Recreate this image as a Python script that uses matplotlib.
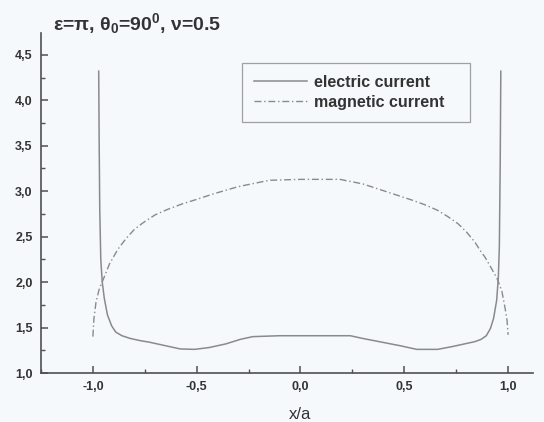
import matplotlib
matplotlib.use("Agg")
import matplotlib.pyplot as plt
from matplotlib.ticker import MultipleLocator, FuncFormatter

# ---- data ----
x_elec = [-0.972, -0.970, -0.967, -0.962, -0.955, -0.945, -0.93, -0.91, -0.89, -0.86,
          -0.82, -0.77, -0.73, -0.65, -0.58, -0.51, -0.44, -0.36, -0.29, -0.23,
          -0.10, 0.0, 0.10, 0.24, 0.30, 0.39, 0.48, 0.56, 0.66, 0.73,
          0.79, 0.84, 0.87, 0.895, 0.915, 0.93, 0.945, 0.953, 0.958, 0.962, 0.965]
y_elec = [4.32, 3.6, 2.8, 2.25, 2.0, 1.82, 1.64, 1.52, 1.45, 1.41,
          1.38, 1.355, 1.34, 1.30, 1.265, 1.26, 1.28, 1.32, 1.37, 1.40,
          1.41, 1.41, 1.41, 1.41, 1.38, 1.34, 1.30, 1.26, 1.26, 1.29,
          1.32, 1.345, 1.37, 1.41, 1.49, 1.60, 1.80, 2.05, 2.4, 3.3, 4.32]

x_mag = [-1.0, -0.995, -0.985, -0.97, -0.95, -0.92, -0.88, -0.84, -0.80, -0.76,
         -0.70, -0.64, -0.57, -0.50, -0.42, -0.30, -0.15, 0.0, 0.19, 0.30,
         0.38, 0.46, 0.54, 0.60, 0.66, 0.71, 0.76, 0.80, 0.84, 0.865,
         0.89, 0.91, 0.93, 0.947, 0.97, 0.985, 0.995, 1.0]
y_mag = [1.40, 1.60, 1.78, 1.92, 2.03, 2.20, 2.36, 2.48, 2.58, 2.65,
         2.74, 2.80, 2.86, 2.91, 2.97, 3.05, 3.12, 3.13, 3.13, 3.08,
         3.02, 2.96, 2.90, 2.85, 2.79, 2.72, 2.64, 2.55, 2.44, 2.35,
         2.27, 2.19, 2.11, 2.04, 1.90, 1.72, 1.58, 1.42]

labels = ["electric current", "magnetic current"]
title_text = r"ε=π, θ$_\mathbf{0}$=90$^\mathbf{0}$, ν=0.5"
xlabel_text = "x/a"

plt.rcParams['font.family'] = ['Liberation Sans', 'DejaVu Sans']
plt.rcParams['mathtext.fontset'] = 'custom'
plt.rcParams['mathtext.rm'] = 'Liberation Sans'
plt.rcParams['mathtext.it'] = 'Liberation Sans'
plt.rcParams['mathtext.bf'] = 'Liberation Sans:bold'

bg = '#f5f9fb'
axc = '#505050'
txtc = '#333333'
linec = '#8a8a8a'

fig = plt.figure(figsize=(5.44, 4.22), dpi=100, facecolor=bg)
ax = fig.add_axes([41/544, 49/422, 492/544, 340/422], facecolor=bg)

ax.plot(x_elec, y_elec, color=linec, lw=1.1, solid_joinstyle='round', label=labels[0])
ax.plot(x_mag, y_mag, color=linec, lw=1.0, linestyle=(0, (5, 2, 1, 2)), label=labels[1])

ax.set_xlim(-1.25, 1.12)
ax.set_ylim(1.0, 4.74)

for s in ['top', 'right']:
    ax.spines[s].set_visible(False)
for s in ['left', 'bottom']:
    ax.spines[s].set_color(axc)
    ax.spines[s].set_linewidth(1.2)

ax.xaxis.set_major_locator(MultipleLocator(0.5))
ax.xaxis.set_minor_locator(MultipleLocator(0.25))
ax.yaxis.set_major_locator(MultipleLocator(0.5))
ax.yaxis.set_minor_locator(MultipleLocator(0.25))
fmt = FuncFormatter(lambda v, p: f"{v:.1f}".replace('.', ','))
ax.xaxis.set_major_formatter(fmt)
ax.yaxis.set_major_formatter(fmt)
ax.tick_params(which='major', direction='in', length=5, width=1.1, color=axc,
               labelsize=9, labelcolor=txtc, pad=6)
ax.tick_params(which='minor', direction='in', length=3, width=1.0, color=axc)
for lab in ax.get_xticklabels() + ax.get_yticklabels():
    lab.set_fontweight('bold')

ax.set_xlabel(xlabel_text, fontsize=12, color=txtc)
ax.xaxis.set_label_coords((300 - 41) / 492, -0.1)

# legend box spans x 242..470 px, top at y 63 px
lx0 = (242 - 41) / 492
lw = (470 - 242) / 492
ltop = (373 - 63) / 340
leg = ax.legend(loc='upper left', bbox_to_anchor=(lx0, ltop - 0.3, lw, 0.3),
                mode='expand', borderaxespad=0,
                frameon=True, fancybox=False, prop={'size': 11.5, 'weight': 'bold'},
                handlelength=3.3, handletextpad=0.45, borderpad=0.75, labelspacing=0.3)
leg.get_frame().set_edgecolor('#8a8a8a')
leg.get_frame().set_linewidth(0.9)
leg.get_frame().set_facecolor(bg)
for t in leg.get_texts():
    t.set_color(txtc)

fig.text(53/544, 1 - 30/422, title_text, fontsize=14, fontweight='bold', color=txtc,
         ha='left', va='baseline')

fig.savefig("out.png", dpi=100, facecolor=bg)
